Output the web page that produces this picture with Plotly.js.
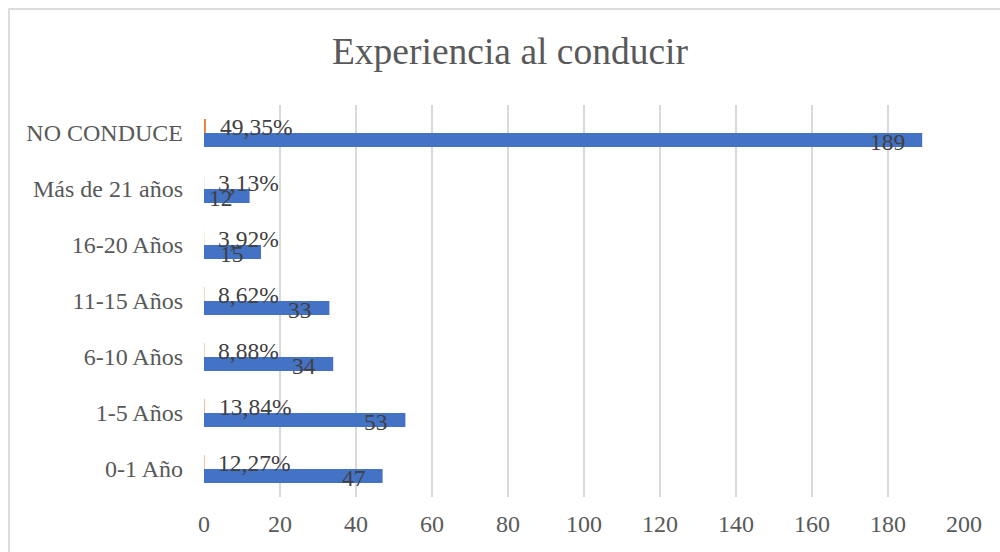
<!DOCTYPE html>
<html>
<head>
<meta charset="utf-8">
<script src="https://cdn.plot.ly/plotly-3.0.1.min.js"></script>
<style>
  html, body { margin: 0; padding: 0; background: #ffffff; overflow: hidden; }
  #frame { position: absolute; left: 8px; top: 8px; width: 1000px; height: 560px; border: 2px solid #DDDDDD; box-sizing: border-box; }
  #chart { position: absolute; left: 0; top: 0; width: 1000px; height: 552px; }
</style>
</head>
<body>
<div id="frame"></div>
<div id="chart"></div>
<script>
const categories = ["0-1 Año", "1-5 Años", "6-10 Años", "11-15 Años", "16-20 Años", "Más de 21 años", "NO CONDUCE"];
const counts = [47, 53, 34, 33, 15, 12, 189];
const percents = [12.27, 13.84, 8.88, 8.62, 3.92, 3.13, 49.35];
const xTicks = [0, 20, 40, 60, 80, 100, 120, 140, 160, 180, 200];

const FONT = "Liberation Serif";
const pctFraction = percents.map(p => p / 100);
const pctLabels = percents.map(p => p.toFixed(2).replace('.', ',') + '%');

const traces = [
  {
    type: 'bar', orientation: 'h', name: 'Frecuencia',
    y: categories, x: counts,
    marker: { color: '#4472C4', line: { width: 0 } },
    hoverinfo: 'none'
  },
  {
    type: 'bar', orientation: 'h', name: 'Porcentaje',
    y: categories, x: pctFraction,
    marker: { color: '#ED7D31', line: { width: 0 } },
    hoverinfo: 'none'
  }
];

const annotations = [];
categories.forEach((c, i) => {
  annotations.push({
    x: counts[i], y: c, xref: 'x', yref: 'y',
    text: String(counts[i]), showarrow: false,
    xanchor: 'right', yanchor: 'middle', xshift: -15, yshift: -9,
    font: { family: FONT, size: 23.5, color: '#404040' }
  });
  annotations.push({
    x: pctFraction[i], y: c, xref: 'x', yref: 'y',
    text: pctLabels[i], showarrow: false,
    xanchor: 'left', yanchor: 'middle', xshift: 12, yshift: 6,
    font: { family: FONT, size: 23.5, color: '#404040' }
  });
});

const layout = {
  width: 1000, height: 552,
  margin: { l: 204, r: 36, t: 105, b: 55 },
  paper_bgcolor: 'rgba(0,0,0,0)',
  plot_bgcolor: 'rgba(0,0,0,0)',
  showlegend: false,
  barmode: 'group',
  bargap: 0.5,
  bargroupgap: 0,
  font: { family: FONT, color: '#595959' },
  title: {
    text: 'Experiencia al conducir',
    font: { family: FONT, size: 37.5, color: '#595959' },
    xref: 'container', yref: 'container',
    x: 0.51, xanchor: 'center', y: 0.908, yanchor: 'middle'
  },
  xaxis: {
    range: [0, 200],
    tickvals: xTicks,
    ticktext: xTicks.map(String),
    showgrid: true, gridcolor: '#D9D9D9', gridwidth: 1.5,
    zeroline: false, showline: false,
    ticks: '', ticklabelstandoff: 10,
    tickfont: { family: FONT, size: 24, color: '#595959' },
    fixedrange: true
  },
  yaxis: {
    type: 'category',
    categoryorder: 'array', categoryarray: categories,
    showgrid: false, zeroline: false, showline: false,
    ticks: '', ticklabelstandoff: 20,
    tickfont: { family: FONT, size: 24, color: '#595959' },
    fixedrange: true
  },
  annotations: annotations
};

Plotly.newPlot('chart', traces, layout, { displayModeBar: false, staticPlot: true });
</script>
</body>
</html>
